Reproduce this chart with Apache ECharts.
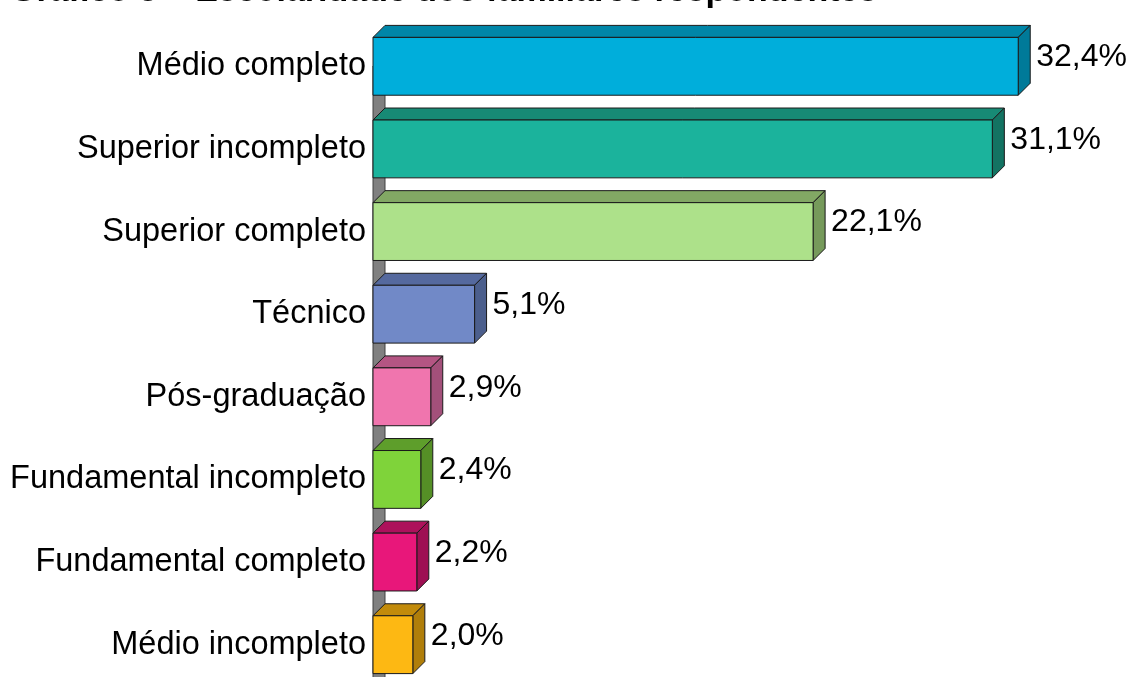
<!DOCTYPE html>
<html>
<head>
<meta charset="utf-8">
<script src="https://cdn.jsdelivr.net/npm/echarts@6/dist/echarts.min.js"></script>
<style>
  html, body { margin: 0; padding: 0; background: #fff; }
  #chart { width: 1132px; height: 677px; }
</style>
</head>
<body>
<div id="chart"></div>
<script>
// Escolaridade dos respondentes (%)
const categories = [
  'Médio completo',
  'Superior incompleto',
  'Superior completo',
  'Técnico',
  'Pós-graduação',
  'Fundamental incompleto',
  'Fundamental completo',
  'Médio incompleto'
];
const values = [32.4, 31.1, 22.1, 5.1, 2.9, 2.4, 2.2, 2.0];
const valueLabels = ['32,4%', '31,1%', '22,1%', '5,1%', '2,9%', '2,4%', '2,2%', '2,0%'];
const titleText = 'Gráfico 3 – Escolaridade dos familiares respondentes';

// front / top / side face colours of each bar
const frontColors = ['#00aedb', '#1bb39c', '#ade18a', '#7189c7', '#f075ae', '#7fd33a', '#e8177a', '#fdb813'];
const topColors   = ['#0086a8', '#178a75', '#82a864', '#55699e', '#b45583', '#5e9e2b', '#ad115b', '#c28b0b'];
const sideColors  = ['#007a99', '#137362', '#769a5b', '#4c5f8d', '#a3507a', '#558f26', '#9e0f53', '#b07e0a'];

const DEPTH = 12;
const FONT = '"Liberation Sans", Arial, sans-serif';

const chart = echarts.init(document.getElementById('chart'), null, { renderer: 'canvas' });

function renderBar(params, api) {
  const idx = api.value(1);
  const v = api.value(0);
  const base = api.coord([0, idx]);
  const end = api.coord([v, idx]);
  const band = api.size([0, 1])[1];
  const h = band * 0.7;
  const x0 = base[0], x1 = end[0];
  const y0 = base[1] - h / 2, y1 = base[1] + h / 2;
  const d = DEPTH;
  const stroke = { stroke: '#1a1a1a', lineWidth: 1 };
  return {
    type: 'group',
    children: [
      {
        type: 'polygon',
        shape: { points: [[x0, y0], [x0 + d, y0 - d], [x1 + d, y0 - d], [x1, y0]] },
        style: Object.assign({ fill: topColors[idx] }, stroke)
      },
      {
        type: 'polygon',
        shape: { points: [[x1, y0], [x1 + d, y0 - d], [x1 + d, y1 - d], [x1, y1]] },
        style: Object.assign({ fill: sideColors[idx] }, stroke)
      },
      {
        type: 'rect',
        shape: { x: x0, y: y0, width: x1 - x0, height: h },
        style: Object.assign({ fill: frontColors[idx] }, stroke)
      },
      {
        type: 'text',
        style: {
          text: valueLabels[idx],
          x: x1 + d + 6,
          y: y0 + 20,
          align: 'left',
          verticalAlign: 'middle',
          fill: '#000',
          font: '32px ' + FONT
        }
      }
    ]
  };
}

// left side wall of the 3D plot
function renderWall(params, api) {
  const top = api.coord([0, -0.5]);
  const bottom = api.coord([0, categories.length - 0.5]);
  const d = DEPTH;
  const x = top[0];
  return {
    type: 'polygon',
    silent: true,
    shape: { points: [[x, top[1]], [x + d, top[1] - d], [x + d, bottom[1] - d], [x, bottom[1]]] },
    style: { fill: '#808080', stroke: '#404040', lineWidth: 1 }
  };
}

chart.setOption({
  animation: false,
  backgroundColor: '#fff',
  graphic: [{
    type: 'text',
    left: 10,
    top: -25,
    style: { text: titleText, fill: '#000', font: 'bold 34px ' + FONT }
  }],
  grid: { left: 373, top: 25, width: 697, height: 661, containLabel: false, outerBoundsMode: 'none' },
  xAxis: { type: 'value', min: 0, max: 35, show: false },
  yAxis: {
    type: 'category',
    data: categories,
    inverse: true,
    axisLine: { show: false },
    axisTick: { show: false },
    axisLabel: { color: '#000', fontSize: 32.5, fontFamily: FONT, margin: 7, padding: [6, 0, 0, 0] }
  },
  series: [
    {
      type: 'custom',
      renderItem: renderWall,
      data: [[0, 0]],
      encode: { x: 0, y: 1 },
      z: 1
    },
    {
      type: 'custom',
      renderItem: renderBar,
      data: values.map((v, i) => [v, i]),
      encode: { x: 0, y: 1 },
      z: 2
    }
  ]
});
</script>
</body>
</html>
